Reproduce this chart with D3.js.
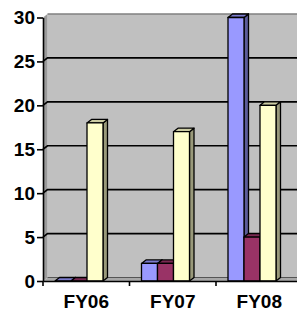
<!DOCTYPE html>
<html>
<head>
<meta charset="utf-8">
<script src="https://cdn.jsdelivr.net/npm/d3@7/dist/d3.min.js"></script>
<style>
  html, body { margin: 0; padding: 0; background: #fff; }
  svg { display: block; }
</style>
</head>
<body>
<div id="chart"></div>
<script>
// categorias y series
const categorias = ["FY06", "FY07", "FY08"];
const serie1 = [0, 2, 30];
const serie2 = [0, 2, 5];
const serie3 = [18, 17, 20];
const ticksY = [0, 5, 10, 15, 20, 25, 30];

const series = [
    { valores: serie1, frente: "#9999ff", arriba: "#7b7bcc", lado: "#5c5c99" },
    { valores: serie2, frente: "#993366", arriba: "#7a2952", lado: "#5c1f3d" },
    { valores: serie3, frente: "#ffffcc", arriba: "#cccca3", lado: "#99997a" }
];

const W = 297, H = 311;
const dx = 4.5, dy = -3.5;   // profundidad 3D

const svg = d3.select("#chart").append("svg")
    .attr("width", W).attr("height", H);

const x = d3.scaleBand().domain(categorias).range([43, 302.5]);
const y = d3.scaleLinear().domain([0, 30]).range([281, 17.5]);
const x0 = x.range()[0], x1 = x.range()[1];

// pared del fondo
svg.append("rect")
    .attr("x", x0 + dx).attr("y", y(30) + dy)
    .attr("width", x1 - x0).attr("height", y(0) - y(30))
    .attr("fill", "#c0c0c0");
svg.append("line")
    .attr("x1", x0 + dx).attr("x2", x1 + dx)
    .attr("y1", y(30) + dy).attr("y2", y(30) + dy)
    .attr("stroke", "#808080").attr("stroke-width", 1.5);

// pared lateral
svg.append("polygon")
    .attr("points", [[x0, y(0)], [x0, y(30)], [x0 + dx, y(30) + dy], [x0 + dx, y(0) + dy]].join(" "))
    .attr("fill", "#9a9a9a");

// piso
svg.append("polygon")
    .attr("points", [[x0, y(0)], [x1, y(0)], [x1 + dx, y(0) + dy], [x0 + dx, y(0) + dy]].join(" "))
    .attr("fill", "#a8a8a8");

// lineas de cuadricula
const grid = ticksY.filter(d => d > 0 && d < 30);
svg.selectAll(".grid").data(grid).enter().append("path")
    .attr("d", d => `M${x0},${y(d)}L${x0 + dx},${y(d) + dy}L${x1 + dx},${y(d) + dy}`)
    .attr("fill", "none").attr("stroke", "#000").attr("stroke-width", 1.6);
svg.append("line")
    .attr("x1", x0 + dx).attr("x2", x1 + dx)
    .attr("y1", y(0) + dy).attr("y2", y(0) + dy)
    .attr("stroke", "#555").attr("stroke-width", 1);

// barras
const bw = 16, off = 12;
categorias.forEach((c, ci) => {
    series.forEach((s, si) => {
        const v = s.valores[ci];
        const bx = x(c) + off + si * bw;
        const top = y(v), base = y(0);
        const g = svg.append("g")
            .attr("stroke", "#000").attr("stroke-width", 1.3).attr("stroke-linejoin", "round");
        g.append("polygon")
            .attr("points", [[bx + bw, top], [bx + bw + dx, top + dy], [bx + bw + dx, base + dy], [bx + bw, base]].join(" "))
            .attr("fill", s.lado);
        g.append("polygon")
            .attr("points", [[bx, top], [bx + bw, top], [bx + bw + dx, top + dy], [bx + dx, top + dy]].join(" "))
            .attr("fill", s.arriba);
        g.append("rect")
            .attr("x", bx).attr("y", top)
            .attr("width", bw).attr("height", base - top)
            .attr("fill", s.frente);
    });
});

// eje Y
const ejeY = svg.append("g").attr("transform", `translate(${x0},0)`)
    .call(d3.axisLeft(y).tickValues(ticksY).tickSize(6).tickPadding(2).tickSizeOuter(0));
ejeY.select(".domain").attr("stroke-width", 1.6);
ejeY.selectAll(".tick line").attr("stroke-width", 1.6);
ejeY.selectAll("text")
    .attr("font-family", "Liberation Sans, Arial, sans-serif")
    .attr("font-weight", "bold").attr("font-size", 19).attr("fill", "#000");

// eje X
const ejeX = svg.append("g").attr("transform", `translate(0,${y(0)})`)
    .call(d3.axisBottom(x).tickSize(0).tickPadding(14));
ejeX.select(".domain").attr("stroke-width", 1.6);
ejeX.selectAll("text")
    .attr("font-family", "Liberation Sans, Arial, sans-serif")
    .attr("font-weight", "bold").attr("font-size", 19).attr("fill", "#000");
svg.selectAll(".xtick").data(categorias).enter().append("line")
    .attr("x1", d => x(d)).attr("x2", d => x(d))
    .attr("y1", y(0)).attr("y2", y(0) + 5)
    .attr("stroke", "#000").attr("stroke-width", 1.6);
</script>
</body>
</html>
